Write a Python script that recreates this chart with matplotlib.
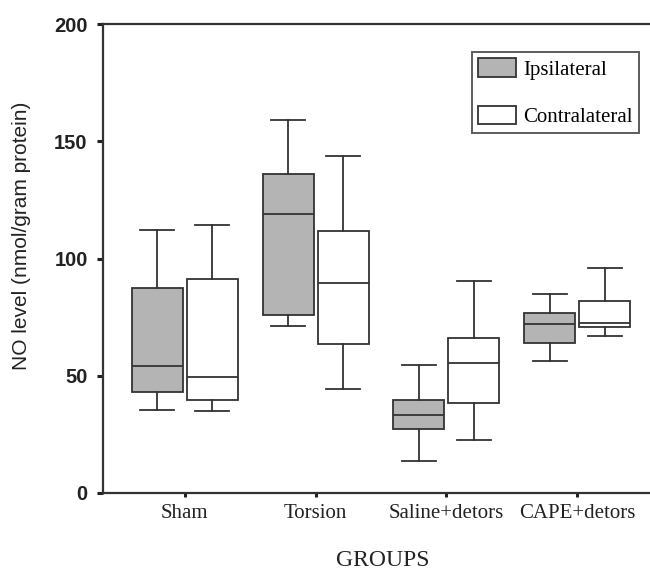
import matplotlib
matplotlib.use('Agg')
import matplotlib.pyplot as plt
from matplotlib.patches import Patch

groups = ['Sham', 'Torsion', 'Saline+detors', 'CAPE+detors']
ipsi_whislo = [35.4, 71.2, 13.5, 56.3]
ipsi_q1 = [42.9, 76.0, 27.1, 64.1]
ipsi_med = [54.2, 118.8, 33.4, 71.9]
ipsi_q3 = [87.3, 136.0, 39.5, 76.6]
ipsi_whishi = [112.2, 159.0, 54.4, 84.7]
contra_whislo = [35.0, 44.2, 22.6, 67.0]
contra_q1 = [39.7, 63.5, 38.3, 70.7]
contra_med = [49.5, 89.4, 55.3, 72.6]
contra_q3 = [91.1, 111.7, 66.0, 82.0]
contra_whishi = [114.2, 143.5, 90.2, 95.8]
yticks = [0, 50, 100, 150, 200]
series_names = ['Ipsilateral', 'Contralateral']

W, H = 650, 570
fig = plt.figure(figsize=(W / 100, H / 100), dpi=100)
ax = fig.add_axes([103 / W, 1 - 493 / H, 546 / W, 469 / H])

edge = '#333333'
gray = '#b4b4b4'
lw = 1.3


def stats(lo, q1, med, q3, hi):
    return [dict(whislo=a, q1=b, med=c, q3=d, whishi=e, fliers=[])
            for a, b, c, d, e in zip(lo, q1, med, q3, hi)]


pos = list(range(1, len(groups) + 1))
off = 0.21
width = 0.39
cap = 0.26
for st, dx, fc in [
    (stats(ipsi_whislo, ipsi_q1, ipsi_med, ipsi_q3, ipsi_whishi), -off, gray),
    (stats(contra_whislo, contra_q1, contra_med, contra_q3, contra_whishi), off, 'white'),
]:
    ax.bxp(st, positions=[p + dx for p in pos], widths=width, capwidths=cap,
           patch_artist=True, showfliers=False, manage_ticks=False,
           boxprops=dict(facecolor=fc, edgecolor=edge, linewidth=lw),
           whiskerprops=dict(color=edge, linewidth=lw),
           capprops=dict(color=edge, linewidth=lw),
           medianprops=dict(color=edge, linewidth=lw))

ax.set_xlim(0.374, 4.55)
ax.set_ylim(0, 200)
ax.set_yticks(yticks)
ax.set_yticklabels([str(t) for t in yticks], fontfamily='Liberation Sans',
                   fontsize=14.5, fontweight='bold', color='#222222')
ax.set_xticks(pos)
ax.set_xticklabels(groups, fontfamily='Liberation Serif', fontsize=15, color='#222222')
ax.tick_params(axis='y', direction='out', length=4, width=2.2, pad=7, color='#222222')
ax.tick_params(axis='x', direction='out', length=3, width=2.2, pad=5, color='#222222')

for s in ['left', 'bottom', 'top']:
    ax.spines[s].set_linewidth(1.6)
    ax.spines[s].set_color('#333333')
ax.spines['right'].set_visible(False)

fig.text(22 / W, 1 - 236 / H, 'NO level (nmol/gram protein)', rotation=90,
         ha='center', va='center', fontfamily='Liberation Sans', fontsize=15,
         color='#222222')
fig.text(383 / W, 1 - 561 / H, 'GROUPS', ha='center', va='center',
         fontfamily='Liberation Serif', fontsize=17, color='#222222')

handles = [Patch(facecolor=gray, edgecolor=edge, linewidth=lw),
           Patch(facecolor='white', edgecolor=edge, linewidth=lw)]
leg = ax.legend(handles, series_names, loc='upper left',
                bbox_to_anchor=(472 / W, 1 - 52 / H), bbox_transform=fig.transFigure,
                borderaxespad=0, frameon=True, fancybox=False,
                prop=dict(family='Liberation Serif', size=15),
                handlelength=1.8, handleheight=1.0, labelspacing=1.25,
                handletextpad=0.35, borderpad=0.3)
leg.get_frame().set_edgecolor('#333333')
leg.get_frame().set_linewidth(1.4)

fig.savefig('out.png', dpi=100)
